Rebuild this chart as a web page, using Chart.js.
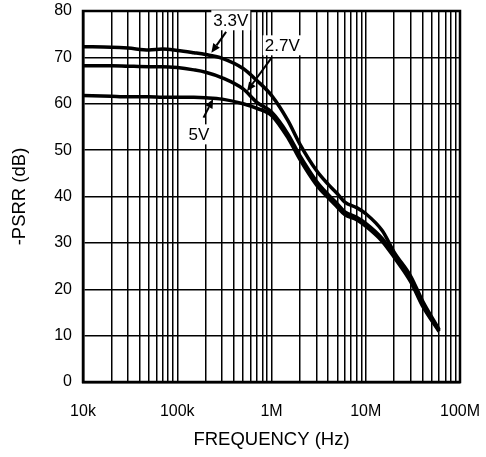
<!DOCTYPE html>
<html>
<head>
<meta charset="utf-8">
<script src="https://cdn.jsdelivr.net/npm/chart.js@4"></script>
<style>
  html, body { margin: 0; padding: 0; background: #fff; }
  #wrap { width: 486px; height: 457px; }
</style>
</head>
<body>
<div id="wrap"><canvas id="psrr"></canvas></div>
<script>
// supply rejection vs frequency, three supply voltages
const freqHz = [1e4, 2e4, 3e4, 5e4, 7e4, 1e5, 1.5e5, 2e5, 3e5, 5e5, 7e5, 1e6, 1.5e6, 2e6, 3e6, 4e6, 5e6, 6e6, 8e6, 1e7, 1.5e7, 2e7, 3e7, 4e7, 6e7];
const psrr3v3 = [72.3, 72.2, 72.0, 71.6, 71.8, 71.5, 71.0, 70.6, 69.8, 67.6, 65.0, 61.8, 56.3, 51.3, 45.6, 42.6, 40.6, 38.8, 37.6, 36.3, 32.6, 28.0, 22.8, 17.5, 11.3];
const psrr2v7 = [68.2, 68.2, 68.1, 68.0, 68.0, 67.8, 67.3, 66.8, 65.6, 63.2, 60.3, 58.2, 53.4, 48.8, 43.3, 40.4, 38.4, 36.7, 35.5, 34.2, 30.9, 27.4, 22.0, 16.7, 11.1];
const psrr5v = [61.8, 61.6, 61.5, 61.5, 61.4, 61.4, 61.4, 61.3, 61.0, 60.0, 59.0, 57.5, 52.6, 48.0, 42.5, 39.7, 37.7, 36.1, 35.0, 33.6, 30.3, 26.9, 21.6, 16.4, 10.9];

const decadeTicks = [1e4, 1e5, 1e6, 1e7, 1e8];
const decadeLabels = ['10k', '100k', '1M', '10M', '100M'];

// callouts: label spot and arrow tail -> head, all in (Hz, dB)
const callouts = [
  { text: '3.3V', at: [3.7e5, 78.0], tail: [3.3e5, 75.5], head: [2.3e5, 71.0] },
  { text: '2.7V', at: [1.3e6, 72.6], tail: [1.0e6, 69.9], head: [5.5e5, 62.7] },
  { text: '5V',   at: [1.7e5, 53.4], tail: [1.9e5, 57.0], head: [2.4e5, 61.0] }
];

const toPts = ys => freqHz.map((f, i) => ({ x: f, y: ys[i] }));

const curve = (label, ys) => ({
  label,
  data: toPts(ys),
  borderColor: '#000',
  borderWidth: 3.5,
  pointRadius: 0,
  cubicInterpolationMode: 'monotone',
  fill: false
});

const frameAndCallouts = {
  id: 'frameAndCallouts',
  beforeDatasetsDraw(chart) {
    const { ctx, chartArea: a } = chart;
    ctx.save();
    ctx.strokeStyle = '#000';
    ctx.lineWidth = 2.5;
    ctx.strokeRect(a.left, a.top, a.right - a.left, a.bottom - a.top);
    ctx.restore();
  },
  afterDatasetsDraw(chart) {
    const { ctx, scales: { x, y } } = chart;
    const px = p => [x.getPixelForValue(p[0]), y.getPixelForValue(p[1])];
    ctx.save();
    ctx.font = '17px "Liberation Sans", Arial, sans-serif';
    ctx.textAlign = 'center';
    ctx.textBaseline = 'middle';
    callouts.forEach(c => {
      const [tx, ty] = px(c.at);
      const w = ctx.measureText(c.text).width;
      ctx.fillStyle = '#fff';
      ctx.fillRect(tx - w / 2 - 2, ty - 10, w + 4, 20);
      ctx.fillStyle = '#000';
      ctx.fillText(c.text, tx, ty + 1);

      const [x0, y0] = px(c.tail);
      const [x1, y1] = px(c.head);
      const ang = Math.atan2(y1 - y0, x1 - x0);
      const hl = 9, hw = 4;
      ctx.strokeStyle = '#000';
      ctx.lineWidth = 2;
      ctx.beginPath();
      ctx.moveTo(x0, y0);
      ctx.lineTo(x1 - hl * Math.cos(ang), y1 - hl * Math.sin(ang));
      ctx.stroke();
      ctx.beginPath();
      ctx.moveTo(x1, y1);
      ctx.lineTo(x1 - hl * Math.cos(ang) + hw * Math.sin(ang), y1 - hl * Math.sin(ang) - hw * Math.cos(ang));
      ctx.lineTo(x1 - hl * Math.cos(ang) - hw * Math.sin(ang), y1 - hl * Math.sin(ang) + hw * Math.cos(ang));
      ctx.closePath();
      ctx.fillStyle = '#000';
      ctx.fill();
    });
    ctx.restore();
  }
};

const tickFont = { family: '"Liberation Sans", Arial, sans-serif', size: 16 };
const titleFont = { family: '"Liberation Sans", Arial, sans-serif', size: 18.5 };

new Chart(document.getElementById('psrr'), {
  type: 'line',
  data: {
    datasets: [
      curve('3.3V', psrr3v3),
      curve('2.7V', psrr2v7),
      curve('5V', psrr5v)
    ]
  },
  options: {
    responsive: true,
    maintainAspectRatio: false,
    animation: false,
    layout: { padding: { top: 11, right: 26, left: 0, bottom: 0 } },
    plugins: {
      legend: { display: false },
      tooltip: { enabled: false }
    },
    scales: {
      x: {
        type: 'logarithmic',
        min: 1e4,
        max: 1e8,
        afterFit: s => {
          s.height = 75;
          s.paddingLeft = 0;
          s.paddingRight = 0;
        },
        afterBuildTicks: s => {
          const t = [];
          for (let d = 1e4; d < 1e8; d *= 10) {
            for (let m = 1; m < 10; m++) t.push({ value: d * m });
          }
          t.push({ value: 1e8 });
          s.ticks = t;
        },
        ticks: {
          autoSkip: false,
          maxRotation: 0,
          padding: 20,
          color: '#000',
          font: tickFont,
          callback: v => {
            const i = decadeTicks.indexOf(v);
            return i >= 0 ? decadeLabels[i] : '';
          }
        },
        grid: { color: '#000', lineWidth: 1.5, drawTicks: false },
        border: { color: '#000', width: 2.5 },
        title: {
          display: true,
          text: 'FREQUENCY (Hz)',
          color: '#000',
          font: titleFont,
          padding: { top: 0, bottom: 6 }
        }
      },
      y: {
        min: 0,
        max: 80,
        afterFit: s => {
          s.width = 83;
          s.paddingTop = 0;
          s.paddingBottom = 0;
        },
        ticks: {
          stepSize: 10,
          padding: 11,
          color: '#000',
          font: tickFont
        },
        grid: { color: '#000', lineWidth: 1.5, drawTicks: false },
        border: { color: '#000', width: 2.5 },
        title: {
          display: true,
          text: '-PSRR (dB)',
          color: '#000',
          font: titleFont,
          padding: { top: 9, bottom: 0 }
        }
      }
    }
  },
  plugins: [frameAndCallouts]
});
</script>
</body>
</html>
